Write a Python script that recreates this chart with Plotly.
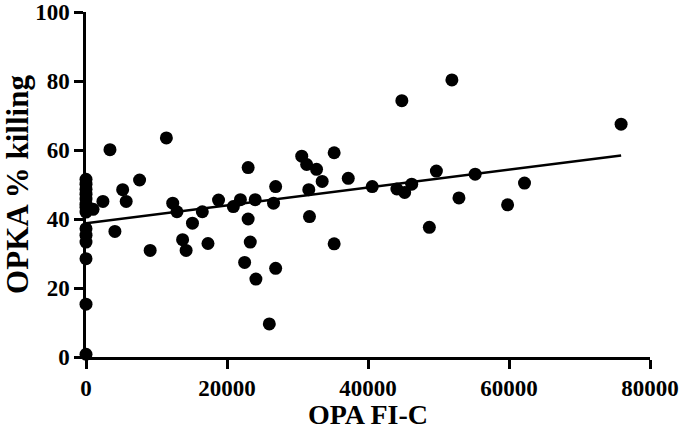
import plotly.graph_objects as go

# OPA FI-C values (x) and OPKA % killing (y)
opa_fic = [
    0, 0, 0, 0, 0, 0, 0, 0, 0, 0, 0, 0, 0, 0,
    1000, 2400,
    3400, 11400, 7600, 5200, 5700, 4100, 9100,
    12300, 12900, 15100, 13700, 14200, 16500, 17300, 18800,
    20900, 21900, 24000, 23000, 23000, 23300, 22500, 24100,
    26000, 26900, 26600, 26900,
    30600, 31300, 32700, 35200, 31600, 33500, 37200, 31700, 35200,
    40600, 44100, 45200, 46200, 44800, 51900, 49700, 48700, 52900,
    55200, 62200, 59800, 75900,
]
opka_killing = [
    51.5, 50.1, 48.6, 47.2, 45.8, 44.3, 43.4, 42.0, 37.2, 35.3, 33.3, 28.5, 15.3, 0.8,
    42.8, 45.1,
    60.1, 63.5, 51.3, 48.5, 45.1, 36.4, 30.9,
    44.6, 42.1, 38.8, 34.0, 30.9, 42.1, 32.9, 45.5,
    43.6, 45.6, 45.6, 54.9, 40.0, 33.3, 27.4, 22.6,
    9.6, 49.4, 44.6, 25.7,
    58.2, 55.8, 54.4, 59.2, 48.5, 50.9, 51.8, 40.7, 32.8,
    49.4, 48.7, 47.7, 50.1, 74.3, 80.3, 53.9, 37.6, 46.1,
    53.0, 50.4, 44.1, 67.5,
]

# Linear fit line
fit_x = [0, 75900]
fit_y = [38.8, 58.4]

x_ticks = [0, 20000, 40000, 60000, 80000]
y_ticks = [0, 20, 40, 60, 80, 100]

font_family = "Liberation Serif"

fig = go.Figure()
fig.add_trace(go.Scatter(
    x=fit_x, y=fit_y, mode="lines",
    line=dict(color="black", width=2.5),
    showlegend=False, hoverinfo="skip",
))
fig.add_trace(go.Scatter(
    x=opa_fic, y=opka_killing, mode="markers",
    marker=dict(color="black", size=13, line=dict(width=0)),
    cliponaxis=False, showlegend=False,
))

axis_common = dict(
    showgrid=False, zeroline=False, showline=True,
    linecolor="black", linewidth=2.5,
    ticks="outside", ticklen=9, tickwidth=2.5, tickcolor="black",
    tickfont=dict(family=font_family, size=23, color="black", weight="bold"),
    automargin=False, ticklabeloverflow="allow",
)

fig.update_xaxes(
    range=[0, 80000], tickvals=x_ticks, ticktext=[str(v) for v in x_ticks],
    title=dict(text="OPA FI-C", standoff=18,
               font=dict(family=font_family, size=28, color="black", weight="bold")),
    **axis_common,
)
fig.update_yaxes(
    range=[0, 100], tickvals=y_ticks, ticktext=[str(v) for v in y_ticks],
    title=dict(text="OPKA % killing", standoff=10,
               font=dict(family=font_family, size=31, color="black", weight="bold")),
    **axis_common,
)

fig.update_layout(
    width=680, height=430,
    margin=dict(l=86, r=30, t=12, b=73),
    paper_bgcolor="white", plot_bgcolor="white",
)

fig.write_html(
    "out.html",
    config={"displayModeBar": False},
    post_script="document.body.style.margin='0';document.body.style.overflow='hidden';",
)
